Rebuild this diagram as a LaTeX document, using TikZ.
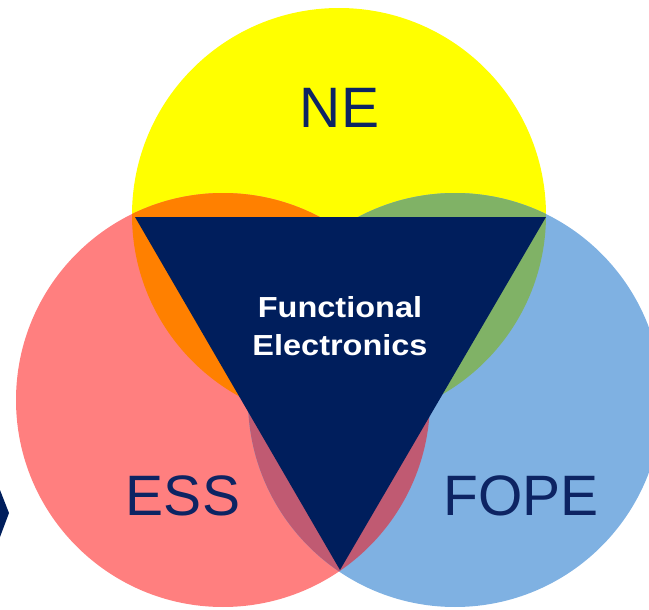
\documentclass[tikz,border=0pt]{standalone}
\usepackage{fontspec}
\setmainfont{Liberation Sans}
\newfontfamily\fefont[FakeStretch=1.12]{Liberation Sans}
\definecolor{neyellow}{HTML}{FFFF00}
\definecolor{essred}{HTML}{FF7F7F}
\definecolor{fopeblue}{HTML}{7FB1E2}
\definecolor{ovorange}{HTML}{FF8000}
\definecolor{ovgreen}{HTML}{80B266}
\definecolor{ovmauve}{HTML}{C05A72}
\definecolor{navy}{HTML}{001E5C}
\definecolor{labelnavy}{HTML}{0D2463}
\tikzset{
  biglabel/.style={text=labelnavy, anchor=base, inner sep=0pt,
    font=\fontsize{57}{57}\selectfont},
  centerlabel/.style={text=white, align=center, inner sep=0pt,
    font=\fefont\bfseries\fontsize{29}{38}\selectfont}
}
\begin{document}
\begin{tikzpicture}[x=1pt,y=-1pt]
\useasboundingbox (0,0) rectangle (649,610);
\coordinate (cN) at (339,215);
\coordinate (cL) at (223,400);
\coordinate (cR) at (455,400);
\def\rad{207pt}
% circles
\fill[neyellow] (cN) circle[radius=\rad];
\fill[essred] (cL) circle[radius=\rad];
\fill[fopeblue] (cR) circle[radius=\rad];
% overlaps
\begin{scope}
  \clip (cN) circle[radius=\rad];
  \fill[ovorange] (cL) circle[radius=\rad];
  \fill[ovgreen] (cR) circle[radius=\rad];
\end{scope}
\begin{scope}
  \clip (cL) circle[radius=\rad];
  \fill[ovmauve] (cR) circle[radius=\rad];
\end{scope}
% triangle
\fill[navy] (135,217) -- (546,217) -- (340,570) -- cycle;
% chevron at left edge
\fill[navy] (0,490) -- (9,513) -- (0,537) -- cycle;
% labels
\node[biglabel] (ne) at (339.5,128) {NE};
\node[biglabel] (ess) at (183,515) {ESS};
\node[biglabel] (fope) at (521,515) {FOPE};
\node[centerlabel] (fe) at (340,326) {Functional\\Electronics};
\end{tikzpicture}
\end{document}
